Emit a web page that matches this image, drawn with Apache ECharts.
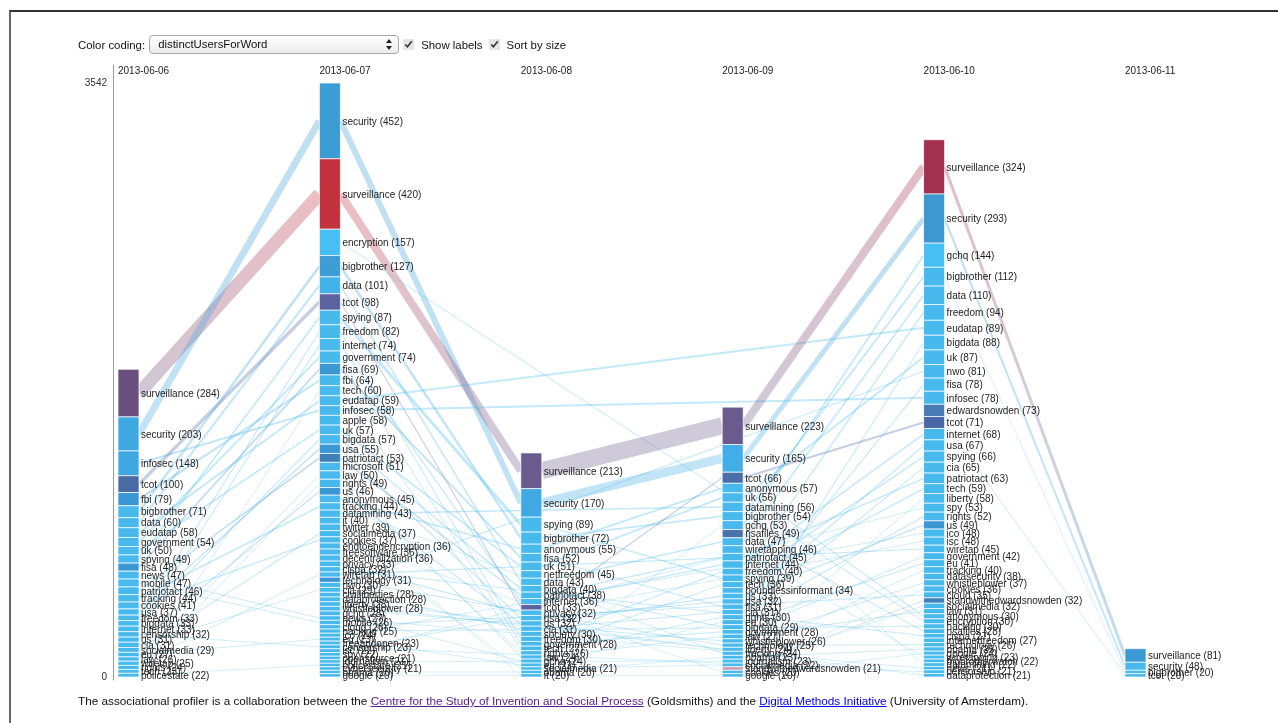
<!DOCTYPE html>
<html>
<head>
<meta charset="utf-8">
<script src="https://cdn.jsdelivr.net/npm/echarts@6/dist/echarts.min.js"></script>
<style>
html,body{margin:0;padding:0;background:#fff;font-family:"Liberation Sans",Arial,Helvetica,sans-serif;width:1278px;height:723px;overflow:hidden;}
#frame{position:absolute;left:9px;top:10px;width:1269px;height:713px;border-top:2px solid #333;border-left:2px solid #666;box-sizing:border-box;}
#chart{position:absolute;left:0;top:0;width:1278px;height:723px;}
#controls{position:absolute;left:78px;top:35px;height:19px;font-size:11.4px;color:#111;display:flex;align-items:center;z-index:3;white-space:nowrap;}
#sel{position:relative;width:240px;height:17px;margin-left:4px;border:1px solid #a8a8a8;border-radius:4px;background:linear-gradient(#fff,#ececec);font-size:11.4px;line-height:17px;padding-left:8px;box-sizing:content-box;}
#sel .up{position:absolute;right:6px;top:3px;border-left:3px solid transparent;border-right:3px solid transparent;border-bottom:4px solid #222;}
#sel .dn{position:absolute;right:6px;top:10px;border-left:3px solid transparent;border-right:3px solid transparent;border-top:4px solid #222;}
input[type=checkbox]{width:11px;height:11px;margin:0 7px 0 4px;accent-color:#e6e6e6;}
#footer{position:absolute;left:78px;top:694px;font-size:11.75px;color:#111;z-index:3;white-space:nowrap;}
#footer a.v{color:#551a8b;}
#footer a.b{color:#0000ee;}
</style>
</head>
<body>
<div id="frame"></div>
<div id="chart"></div>
<div id="controls">Color coding:<div id="sel">distinctUsersForWord<span class="up"></span><span class="dn"></span></div><input type="checkbox" checked>Show labels<input type="checkbox" checked style="margin-left:6px">Sort by size</div>
<div id="footer">The associational profiler is a collaboration between the <a class="v" href="#">Centre for the Study of Invention and Social Process</a> (Goldsmiths) and the <a class="b" href="#">Digital Methods Initiative</a> (University of Amsterdam).</div>
<script>
// ---------- DATA ----------
const dates = ['2013-06-06','2013-06-07','2013-06-08','2013-06-09','2013-06-10','2013-06-11'];
const yMax = 3542;

const words0606 = ['surveillance','security','infosec','tcot','fbi','bigbrother','data','eudatap','government','uk','spying','fisa','news','mobile','patriotact','tracking','cookies','usa','freedom','bigdata','internet','censorship','us','cia','socialmedia','eu','law','wiretap','rights','tech','policestate'];
const counts0606 = [284,203,148,100,79,71,60,58,54,50,49,48,47,47,46,44,41,37,33,33,33,32,31,31,29,27,26,25,24,23,22];

const words0607 = ['security','surveillance','encryption','bigbrother','data','tcot','spying','freedom','internet','government','fisa','fbi','tech','eudatap','infosec','apple','uk','bigdata','usa','patriotact','microsoft','law','rights','us','anonymous','tracking','datamining','it','twitter','socialmedia','cookies','endtoendencryption','freesoftware','decentralization','privacy','cispa','wiretap','technology','nwo','cia','civilliberties','dataprotection','liberty','whistleblower','gchq','news','mobile','cloud','hacking','ico','eu','freeandopen','censorship','isc','spy','opensource','journalism','policestate','cybersecurity','obama','google'];
const counts0607 = [452,420,157,127,101,98,87,82,74,74,69,64,60,59,58,58,57,57,55,53,51,50,49,46,45,44,43,40,39,37,37,36,36,36,33,32,31,31,30,29,28,28,28,28,28,27,26,26,25,24,23,23,23,22,22,21,21,21,21,20,20];

const words0608 = ['surveillance','security','spying','bigbrother','anonymous','fisa','uk','netfreedom','data','bigdata','patriotact','internet','tcot','privacy','usa','us','cia','society','freedom','government','tech','rights','law','gchq','eu','socialmedia','obama','it'];
const counts0608 = [213,170,89,72,55,52,51,45,43,40,38,36,33,32,32,32,31,30,30,28,27,26,24,24,22,21,20,20];

const words0609 = ['surveillance','security','tcot','anonymous','uk','datamining','bigbrother','gchq','nsafiles','data','wiretapping','patriotact','internet','freedom','spying','tech','boundlessinformant','us','usa','fisa','cia','rights','eu','bigdata','government','law','whistleblower','technology','liberty','tracking','obama','journalism','socialmedia','standwithedwardsnowden','cookies','google'];
const counts0609 = [223,165,66,57,56,56,54,53,49,47,46,45,44,40,39,36,34,33,32,31,31,30,30,29,28,27,26,25,24,24,23,23,22,21,20,20];

const words0610 = ['surveillance','security','gchq','bigbrother','data','freedom','eudatap','bigdata','uk','nwo','fisa','infosec','edwardsnowden','tcot','internet','usa','spying','cia','patriotact','tech','liberty','spy','rights','us','ico','isc','wiretap','government','eu','tracking','datasecurity','whistleblower','cookies','cloud','standwithedwardsnowden','socialmedia','law','anonymous','encryption','hacking','nsafiles','cispa','internetfreedom','technology','obama','google','wiretapping','bigbrotherwatch','datamining','news','censorship','dataprotection'];
const counts0610 = [324,293,144,112,110,94,89,88,87,81,78,78,73,71,68,67,66,65,63,59,58,53,52,49,48,48,45,42,41,40,38,37,36,35,32,32,31,30,30,30,28,27,27,26,25,24,23,22,22,21,21,21];

const words0611 = ['surveillance','security','bigbrother','tcot'];
const counts0611 = [81,48,20,20];

const sharedSurveillance = [260, 160, 340, 160, 60];
const sharedSecurity = [140, 120, 180, 100, 40];

const columnWords = [words0606, words0607, words0608, words0609, words0610, words0611];
const columnCounts = [counts0606, counts0607, counts0608, counts0609, counts0610, counts0611];
const sharedByWord = {surveillance: sharedSurveillance, security: sharedSecurity};

// ---------- STYLE ----------
const BAR_W = 21;
const baseColor = '#47b9ed';
const highlight = {
  '2013-06-06': {surveillance:'#6b4f7e', security:'#3ea8e1', infosec:'#3ea8e1', tcot:'#4a6aa3', fbi:'#3b96d4', fisa:'#3b96d4'},
  '2013-06-07': {security:'#3d9bd5', surveillance:'#c2323f', encryption:'#46c0f2', bigbrother:'#3d9bd5', data:'#42b2ea', tcot:'#5a62a0', fisa:'#3b96d4', usa:'#3b96d4', patriotact:'#3f7fba', us:'#3b96d4', technology:'#3b96d4'},
  '2013-06-08': {surveillance:'#6a5a8d', security:'#40a8e2', tcot:'#5a62a0'},
  '2013-06-09': {surveillance:'#6a5a8d', security:'#41aee7', tcot:'#4a6ea8', nsafiles:'#4a72aa', standwithedwardsnowden:'#c69ab4'},
  '2013-06-10': {surveillance:'#a3304f', security:'#3d97d1', gchq:'#46c0f2', edwardsnowden:'#4a7ab3', tcot:'#4a66a6', standwithedwardsnowden:'#3f7fba', us:'#3b96d4'},
  '2013-06-11': {surveillance:'#3b9ad6'}
};
function colorOf(c, w){ const h = highlight[dates[c]]; return (h && h[w]) || baseColor; }

// ---------- BUILD ----------
const segs = [];
const segIndex = [];
columnWords.forEach((ws, c) => {
  const cs = columnCounts[c];
  let top = cs.reduce((a,b)=>a+b,0);
  const map = {};
  ws.forEach((w, i) => {
    const s = {c, y0: top - cs[i], y1: top, word: w, value: cs[i], color: colorOf(c, w)};
    top -= cs[i];
    segs.push(s); map[w] = s;
  });
  segIndex.push(map);
});
const links = [];
for (let c = 0; c < dates.length; c++) {
  for (const w of columnWords[c]) {
    for (let d = c + 1; d < dates.length; d++) {
      if (segIndex[d][w]) {
        const a = segIndex[c][w], b = segIndex[d][w];
        const shared = sharedByWord[w] ? sharedByWord[w][c] : Math.min(a.value, b.value) * 0.7;
        links.push({c, ys:(a.y0+a.y1)/2, d, yd:(b.y0+b.y1)/2, v: shared, cs:a.color, cd:b.color});
        break;
      }
    }
  }
}

const FONT = '"Liberation Sans", Arial, sans-serif';
const chart = echarts.init(document.getElementById('chart'), null, {renderer:'canvas'});
chart.setOption({
  animation: false,
  backgroundColor: 'transparent',
  grid: [{left:118, right:153, top:83, bottom:46}, {left:118, right:153, top:65, bottom:43}],
  xAxis: [
    {type:'value', gridIndex:0, min:0, max:dates.length-1, interval:1, position:'top',
      axisLine:{show:false}, axisTick:{show:false}, splitLine:{show:false},
      axisLabel:{formatter:v=>dates[v]||'', align:'left', margin:7, fontSize:10, color:'#222', fontFamily:FONT}},
    {type:'value', gridIndex:1, min:-1, max:1, show:false, axisLine:{onZero:false}}
  ],
  yAxis: [
    {type:'value', gridIndex:0, min:0, max:yMax, interval:yMax, offset:5, position:'left',
      axisLine:{show:false, onZero:false}, axisTick:{show:false}, splitLine:{show:false},
      axisLabel:{formatter:v=>String(v), fontSize:10, color:'#333', margin:6, fontFamily:FONT}},
    {type:'value', gridIndex:1, min:0, max:1, offset:5, position:'left',
      axisLine:{show:true, onZero:false, lineStyle:{color:'#9a9a9a', width:1}}, axisTick:{show:false}, splitLine:{show:false}, axisLabel:{show:false}}
  ],
  series: [
    {type:'custom', z:1, silent:true, xAxisIndex:0, yAxisIndex:0,
      data: links.map(l=>[l.c, l.ys, l.d, l.yd, l.v]),
      encode:{x:[0,2], y:[1,3]},
      renderItem:(params, api)=>{
        const l = links[params.dataIndex];
        const p1 = api.coord([l.c, l.ys]); p1[0] += BAR_W;
        const p2 = api.coord([l.d, l.yd]);
        return {type:'line', shape:{x1:p1[0], y1:p1[1], x2:p2[0], y2:p2[1]},
          style:{stroke:new echarts.graphic.LinearGradient(p1[0],p1[1],p2[0],p2[1],[{offset:0,color:l.cs},{offset:1,color:l.cd}],true),
            lineWidth:Math.max(0.6, l.v*0.05), opacity:0.32}};
      }},
    {type:'custom', z:2, silent:true, xAxisIndex:0, yAxisIndex:0,
      data: segs.map(s=>[s.c, s.y0, s.y1, s.value]),
      encode:{x:0, y:[1,2]},
      renderItem:(params, api)=>{
        const s = segs[params.dataIndex];
        const pt = api.coord([s.c, s.y1]);
        const pb = api.coord([s.c, s.y0]);
        return {type:'group', children:[
          {type:'rect', shape:{x:pt[0], y:pt[1], width:BAR_W, height:pb[1]-pt[1]},
            style:{fill:s.color, stroke:'#ffffff', lineWidth:0.7}},
          {type:'text', z2:10, style:{text:s.word+' ('+s.value+')', x:pt[0]+BAR_W+2, y:(pt[1]+pb[1])/2+1,
            verticalAlign:'middle', align:'left', fill:'#1e1e1e', font:'10px '+FONT}}
        ]};
      }}
  ]
});
</script>
</body>
</html>
